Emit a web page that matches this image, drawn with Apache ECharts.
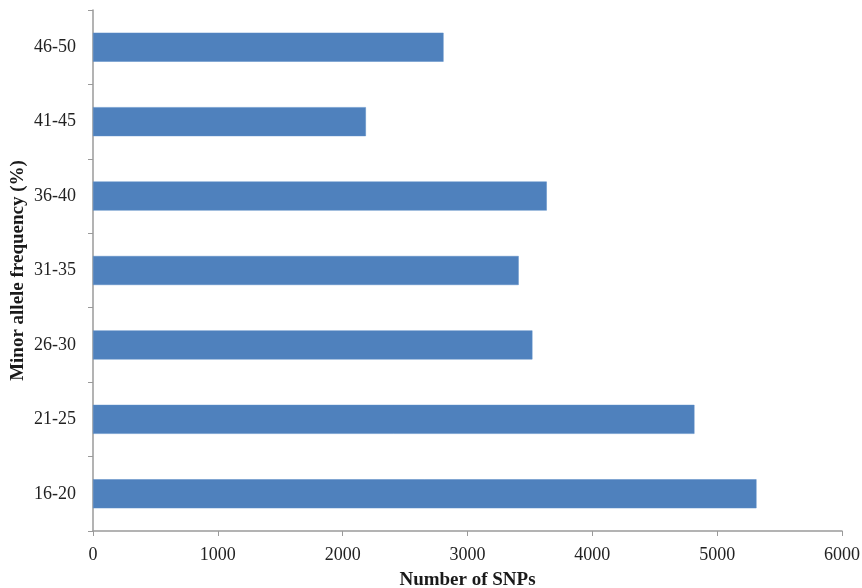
<!DOCTYPE html>
<html>
<head>
<meta charset="utf-8">
<script src="https://cdn.jsdelivr.net/npm/echarts@6/dist/echarts.min.js"></script>
<style>
  html, body { margin: 0; padding: 0; background: #ffffff; }
  #chart { width: 862px; height: 588px; }
</style>
</head>
<body>
<div id="chart"></div>
<script>
// Minor allele frequency classes (bottom to top)
const categories = ['16-20', '21-25', '26-30', '31-35', '36-40', '41-45', '46-50'];
// Number of SNPs in each class
const snpCounts = [5315, 4818, 3520, 3410, 3635, 2186, 2808];
// Value axis ticks
const xTicks = [0, 1000, 2000, 3000, 4000, 5000, 6000];

const serif = '"Liberation Serif", "DejaVu Serif", serif';
const axisGray = '#9a9a9a';

const chart = echarts.init(document.getElementById('chart'));
chart.setOption({
  animation: false,
  backgroundColor: '#ffffff',
  grid: {
    left: 93, right: 20, top: 10, bottom: 57,
    containLabel: false,
    outerBoundsMode: 'none'
  },
  xAxis: {
    type: 'value',
    min: xTicks[0],
    max: xTicks[xTicks.length - 1],
    interval: xTicks[1] - xTicks[0],
    name: 'Number of SNPs',
    nameLocation: 'middle',
    nameGap: 40,
    nameTextStyle: { fontFamily: serif, fontWeight: 'bold', fontSize: 19, color: '#1a1a1a' },
    axisLine: { show: true, lineStyle: { color: axisGray, width: 1.5 } },
    axisTick: { show: true, length: 5, lineStyle: { color: axisGray } },
    axisLabel: {
      fontFamily: serif, fontSize: 18, color: '#222', margin: 15,
      formatter: v => String(v)
    },
    splitLine: { show: false }
  },
  yAxis: {
    type: 'category',
    data: categories,
    name: 'Minor allele frequency (%)',
    nameLocation: 'middle',
    nameRotate: 90,
    nameGap: 65,
    nameMoveOverlap: false,
    nameTextStyle: { fontFamily: serif, fontWeight: 'bold', fontSize: 19, color: '#1a1a1a' },
    axisLine: { show: true, lineStyle: { color: axisGray, width: 1.5 } },
    axisTick: { show: true, length: 5, alignWithLabel: false, lineStyle: { color: axisGray } },
    axisLabel: { fontFamily: serif, fontSize: 18, color: '#222', margin: 17 },
    splitLine: { show: false }
  },
  series: [{
    type: 'bar',
    data: snpCounts,
    barWidth: 29,
    itemStyle: { color: '#4f81bd', borderColor: '#5b8cc6', borderWidth: 0.5 }
  }]
});
</script>
</body>
</html>
